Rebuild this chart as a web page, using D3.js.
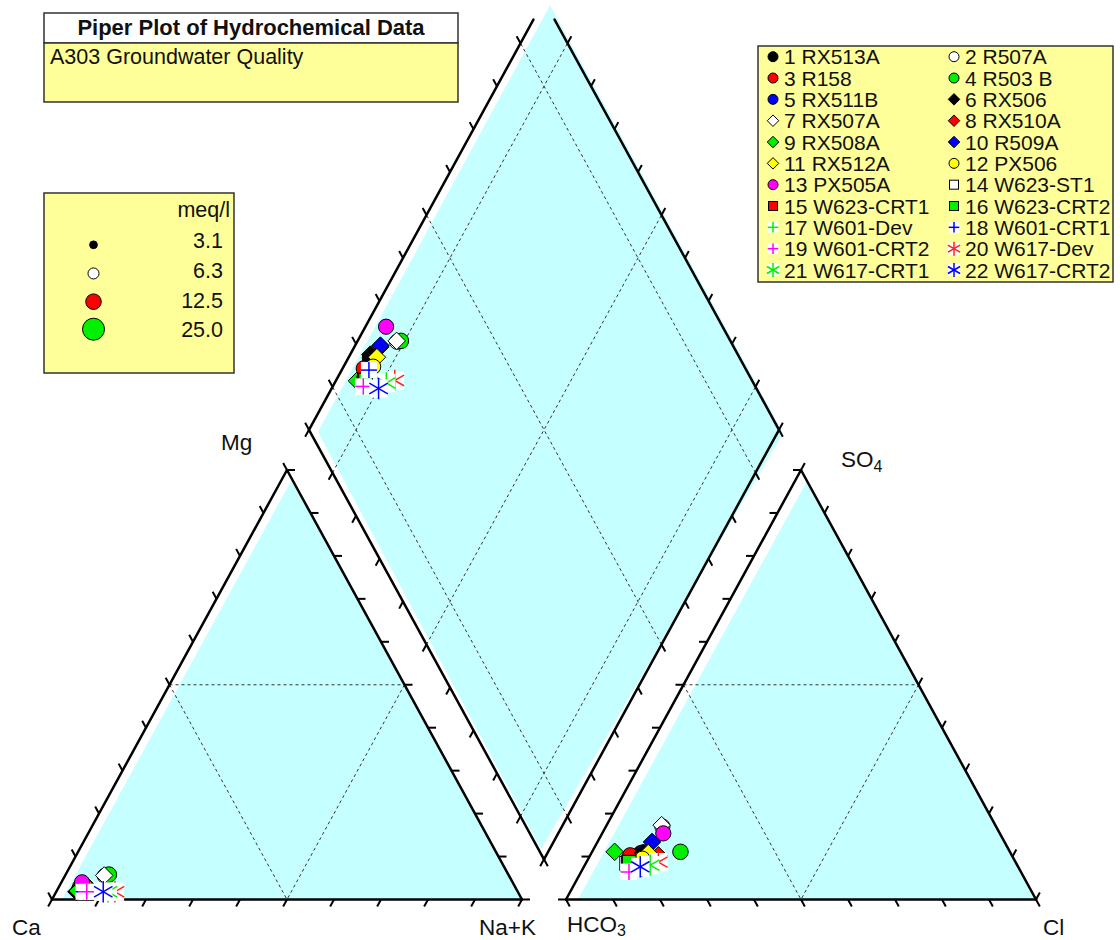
<!DOCTYPE html>
<html>
<head>
<meta charset="utf-8">
<script src="https://cdn.jsdelivr.net/npm/d3@7"></script>
<style>
  body { margin: 0; background: #fff; }
  text { font-family: "Liberation Sans", Arial, sans-serif; fill: #111; }
</style>
</head>
<body>
<div id="chart"></div>
<script>
(function () {

  var w = 1120;
  var h = 940;

  // samples, % of meq/l
  var samples = ["1 RX513A", "2 R507A", "3 R158", "4 R503 B", "5 RX511B", "6 RX506",
    "7 RX507A", "8 RX510A", "9 RX508A", "10 R509A", "11 RX512A", "12 PX506",
    "13 PX505A", "14 W623-ST1", "15 W623-CRT1", "16 W623-CRT2", "17 W601-Dev",
    "18 W601-CRT1", "19 W601-CRT2", "20 W617-Dev", "21 W617-CRT1", "22 W617-CRT2"];

  var ca  = [93.2, 86.0, 92.5, 85.0, 92.0, 93.9, 86.1, 91.7, 93.5, 91.1, 91.0, 91.2, 91.6, 91.8, 92.0, 91.7, 91.7, 92.4, 91.7, 85.7, 87.2, 88.2];
  var mg  = [2.2, 5.5, 3.0, 5.8, 3.0, 1.8, 5.6, 2.8, 2.0, 3.5, 3.0, 2.5, 4.0, 2.0, 2.0, 2.0, 1.8, 1.8, 1.8, 1.8, 1.8, 1.8];
  var naK = [4.6, 8.5, 4.5, 9.2, 5.0, 4.3, 8.3, 5.5, 4.5, 5.4, 6.0, 6.3, 4.4, 6.2, 6.0, 6.3, 6.5, 5.8, 6.5, 12.5, 11.0, 10.0];

  var hco3 = [78.7, 71.0, 81.2, 70.1, 78.0, 78.2, 71.0, 75.2, 84.1, 75.0, 77.1, 79.0, 71.6, 82.9, 82.4, 82.2, 83.5, 80.3, 83.4, 76.0, 78.1, 80.4];
  var so4  = [10.8, 17.0, 10.3, 11.1, 11.0, 10.8, 17.3, 10.3, 11.1, 13.4, 10.8, 9.5, 15.4, 8.4, 8.6, 8.7, 6.5, 7.2, 6.4, 8.7, 8.0, 7.6];
  var cl   = [10.5, 12.0, 8.5, 18.8, 11.0, 11.0, 11.7, 14.5, 4.8, 11.6, 12.1, 11.5, 13.0, 8.7, 9.0, 9.1, 10.0, 12.5, 10.2, 15.3, 13.9, 12.0];

  var meq = [12, 12, 12, 12.5, 12, 12, 12, 12, 12, 12, 12, 12, 12, 12, 12, 12, 12, 12, 12, 12, 12, 12];

  var sizeValues = [3.1, 6.3, 12.5, 25.0];
  var sizeLabels = ["3.1", "6.3", "12.5", "25.0"];
  var tickValues = [0, 10, 20, 30, 40, 50, 60, 70, 80, 90, 100];
  var gridDiamond = [10, 50, 90];

  // marker style per sample
  var shapes = ["circle", "circle", "circle", "circle", "circle", "diamond", "diamond", "diamond",
    "diamond", "diamond", "diamond", "circle", "circle", "square", "square", "square",
    "plus", "plus", "plus", "star", "star", "star"];
  var colors = ["#000000", "#ffffff", "#ff0000", "#00f000", "#0000ff", "#000000", "#ffffff", "#ff0000",
    "#00f000", "#0000ff", "#ffff00", "#ffff00", "#ff00ff", "#ffffff", "#ff0000", "#00f000",
    "#00f000", "#0000ff", "#ff00ff", "#ff2020", "#00f000", "#0000ff"];

  var cyan = "#c6ffff";
  var yellow = "#ffff99";

  // geometry
  var side = 470, gap = 44, baseY = 899.5, triH = 429.5, left = 52;

  var catX = d3.scaleLinear().domain([0, 100]).range([left, left + side]);
  var anX = d3.scaleLinear().domain([0, 100]).range([left + side + gap, left + 2 * side + gap]);
  var triY = d3.scaleLinear().domain([0, 100]).range([baseY, baseY - triH]);

  var dBottom = baseY - (gap / 2) * triH / (side / 2);
  var dCenter = left + side + gap / 2;
  var dmX = d3.scaleLinear().domain([-100, 100]).range([dCenter - side / 2, dCenter + side / 2]);
  var dmY = d3.scaleLinear().domain([0, 200]).range([dBottom, dBottom - 2 * triH]);

  var rScale = d3.scaleSqrt().domain([0, 25]).range([0, 11]);

  function catXY(m, n) { return [catX(n + m / 2), triY(m)]; }
  function anXY(s, c) { return [anX(c + s / 2), triY(s)]; }
  function dmXY(cm, sc) { return [dmX(sc - cm), dmY(cm + sc)]; }

  var len = Math.sqrt((side / 2) * (side / 2) + triH * triH);
  var ux = (side / 2) / len, uy = triH / len;
  var upLeft = [-ux, -uy], upRight = [ux, -uy], downLeft = [-ux, uy], downRight = [ux, uy];

  var svg = d3.select("#chart")
    .append("svg")
    .attr("width", w)
    .attr("height", h);

  var line = d3.line();

  // fills (drawn a little offset, as in the original)
  var fills = svg.append("g");
  var lf = [[catX(0) + 10, baseY], [catX(100), baseY], [(catX(0) + 10 + catX(100)) / 2, baseY - triH * (side - 10) / side]];
  var rf = [[anX(0) + 12, baseY], [anX(100), baseY], [(anX(0) + 12 + anX(100)) / 2, baseY - triH * (side - 12) / side]];
  var dl = dmXY(100, 0), dt = dmXY(100, 100), dr = dmXY(0, 100), db = dmXY(0, 0);
  var df = [[dt[0] + 6, dt[1] + 5], [dr[0] + 4, dr[1] + 3], [db[0] - 3, db[1] - 10], [dl[0] + 9, dl[1] + 2]];
  [lf, rf, df].forEach(function (p) {
    fills.append("path")
      .attr("d", line(p) + "Z")
      .style("fill", cyan)
      .style("stroke", "none");
  });

  // dashed grid
  var grid = svg.append("g")
    .style("stroke", "#333")
    .style("stroke-width", 1)
    .style("stroke-dasharray", "3,3")
    .style("fill", "none");

  var gridLines = [
    [catXY(50, 0), catXY(50, 50)], [catXY(50, 0), catXY(0, 50)], [catXY(50, 50), catXY(0, 50)],
    [anXY(50, 0), anXY(50, 50)], [anXY(50, 0), anXY(0, 50)], [anXY(50, 50), anXY(0, 50)]
  ];
  gridDiamond.forEach(function (v) {
    gridLines.push([dmXY(v, 0), dmXY(v, 100)]);
    gridLines.push([dmXY(0, v), dmXY(100, v)]);
  });
  grid.selectAll("path")
    .data(gridLines)
    .enter()
    .append("path")
    .attr("d", function (d) { return line(d); });

  // outlines
  var frame = svg.append("g")
    .style("stroke", "#000")
    .style("stroke-width", 2.5)
    .style("fill", "none")
    .style("stroke-linecap", "round");

  var edges = [
    [catXY(0, 0), catXY(0, 100)], [catXY(0, 100), catXY(100, 0)], [catXY(100, 0), catXY(0, 0)],
    [anXY(0, 0), anXY(0, 100)], [anXY(0, 100), anXY(100, 0)], [anXY(100, 0), anXY(0, 0)],
    [dmXY(100, 0), dmXY(100, 95.5)], [dmXY(0, 100), dmXY(95.5, 100)],
    [dmXY(0, 0), dmXY(100, 0)], [dmXY(0, 0), dmXY(0, 100)]
  ];
  frame.selectAll("path")
    .data(edges)
    .enter()
    .append("path")
    .attr("d", function (d) { return line(d); });

  // ticks
  var tickSets = [];
  tickValues.forEach(function (k) {
    tickSets.push([catXY(0, k), downLeft]);
    tickSets.push([catXY(k, 100 - k), [1, 0]]);
    tickSets.push([catXY(k, 0), upLeft]);
    tickSets.push([anXY(0, k), downRight]);
    tickSets.push([anXY(k, 0), [-1, 0]]);
    tickSets.push([anXY(k, 100 - k), upRight]);
    if (k < 100) {
      tickSets.push([dmXY(100, k), upLeft]);
      tickSets.push([dmXY(k, 100), upRight]);
    }
    tickSets.push([dmXY(k, 0), downLeft]);
    tickSets.push([dmXY(0, k), downRight]);
  });
  svg.append("g")
    .style("stroke", "#000")
    .style("stroke-width", 2)
    .selectAll("line")
    .data(tickSets)
    .enter()
    .append("line")
    .attr("x1", function (d) { return d[0][0]; })
    .attr("y1", function (d) { return d[0][1]; })
    .attr("x2", function (d) { return d[0][0] + 8 * d[1][0]; })
    .attr("y2", function (d) { return d[0][1] + 8 * d[1][1]; });

  // markers
  function marker(g, shape, color, x, y, r) {
    if (shape == "circle") {
      g.append("circle")
        .attr("cx", x).attr("cy", y).attr("r", r)
        .style("fill", color).style("stroke", "#000").style("stroke-width", 1);
    } else if (shape == "diamond") {
      var d = r * 1.15;
      g.append("path")
        .attr("d", "M" + x + "," + (y - d) + "L" + (x + d) + "," + y + "L" + x + "," + (y + d) + "L" + (x - d) + "," + y + "Z")
        .style("fill", color).style("stroke", "#000").style("stroke-width", 1);
    } else if (shape == "square") {
      var s = r * 0.9;
      g.append("rect")
        .attr("x", x - s).attr("y", y - s).attr("width", 2 * s).attr("height", 2 * s)
        .style("fill", color).style("stroke", "#000").style("stroke-width", 1);
    } else {
      var star = shape == "star";
      var b = star ? r * 1.2 : r * 1.05;
      g.append("rect")
        .attr("x", x - b).attr("y", y - b).attr("width", 2 * b).attr("height", 2 * b)
        .style("fill", "#fff").style("stroke", "none");
      var arms = star ? [90, 30, -30] : [0, 90];
      var l = star ? r * 1.4 : r * 1.05;
      arms.forEach(function (a) {
        var rad = a * Math.PI / 180;
        g.append("line")
          .attr("x1", x - l * Math.cos(rad)).attr("y1", y - l * Math.sin(rad))
          .attr("x2", x + l * Math.cos(rad)).attr("y2", y + l * Math.sin(rad))
          .style("stroke", color).style("stroke-width", 1.5);
      });
    }
  }

  var pts = svg.append("g");
  samples.forEach(function (name, i) {
    var r = rScale(meq[i]);
    var p1 = catXY(mg[i], naK[i]);
    var p2 = anXY(so4[i], cl[i]);
    var p3 = dmXY(ca[i] + mg[i], so4[i] + cl[i]);
    [p1, p2, p3].forEach(function (p) {
      marker(pts, shapes[i], colors[i], p[0], p[1], r);
    });
  });

  // axis labels
  var labels = svg.append("g").style("font-size", "22.5px");
  labels.append("text").attr("x", 221).attr("y", 450).text("Mg");
  labels.append("text").attr("x", 12).attr("y", 935).text("Ca");
  labels.append("text").attr("x", 479).attr("y", 935).text("Na+K");
  labels.append("text").attr("x", 1043).attr("y", 935).text("Cl");
  var hco = labels.append("text").attr("x", 567).attr("y", 932).text("HCO");
  hco.append("tspan").attr("dy", 4).style("font-size", "16px").text("3");
  var so = labels.append("text").attr("x", 841).attr("y", 467).text("SO");
  so.append("tspan").attr("dy", 5).style("font-size", "16px").text("4");

  // title box
  var tb = svg.append("g");
  tb.append("rect").attr("x", 44).attr("y", 13).attr("width", 414).attr("height", 30)
    .style("fill", "#fff").style("stroke", "#333").style("stroke-width", 1.5);
  tb.append("rect").attr("x", 44).attr("y", 43).attr("width", 414).attr("height", 59)
    .style("fill", yellow).style("stroke", "#333").style("stroke-width", 1.5);
  tb.append("text").attr("x", 251).attr("y", 35).attr("text-anchor", "middle")
    .style("font-size", "22px").style("font-weight", "bold")
    .text("Piper Plot of Hydrochemical Data");
  tb.append("text").attr("x", 50).attr("y", 64)
    .style("font-size", "21.5px")
    .text("A303 Groundwater Quality");

  // size legend
  var sl = svg.append("g");
  sl.append("rect").attr("x", 44).attr("y", 193).attr("width", 190).attr("height", 180)
    .style("fill", yellow).style("stroke", "#333").style("stroke-width", 1.5);
  sl.append("text").attr("x", 230).attr("y", 217).attr("text-anchor", "end")
    .style("font-size", "21.5px").text("meq/l");
  sizeValues.forEach(function (v, i) {
    var ty = 248 + i * 29.8;
    var r = rScale(v);
    sl.append("circle").attr("cx", 93.5).attr("cy", ty - 0.7 * r - 0.5).attr("r", r)
      .style("fill", colors[i]).style("stroke", "#000").style("stroke-width", 1);
    sl.append("text").attr("x", 223).attr("y", ty).attr("text-anchor", "end")
      .style("font-size", "21.5px").text(sizeLabels[i]);
  });

  // sample legend
  var lg = svg.append("g");
  lg.append("rect").attr("x", 758).attr("y", 46).attr("width", 355).attr("height", 236)
    .style("fill", yellow).style("stroke", "#333").style("stroke-width", 1.5);
  samples.forEach(function (name, i) {
    var col = i % 2, row = Math.floor(i / 2);
    var cy = 56.7 + row * 21.33;
    var mx = col == 0 ? 773 : 954;
    marker(lg, shapes[i], colors[i], mx, cy, 5);
    lg.append("text").attr("x", mx + 11).attr("y", cy + 7.5)
      .style("font-size", "21px").text(name);
  });

})();
</script>
</body>
</html>
